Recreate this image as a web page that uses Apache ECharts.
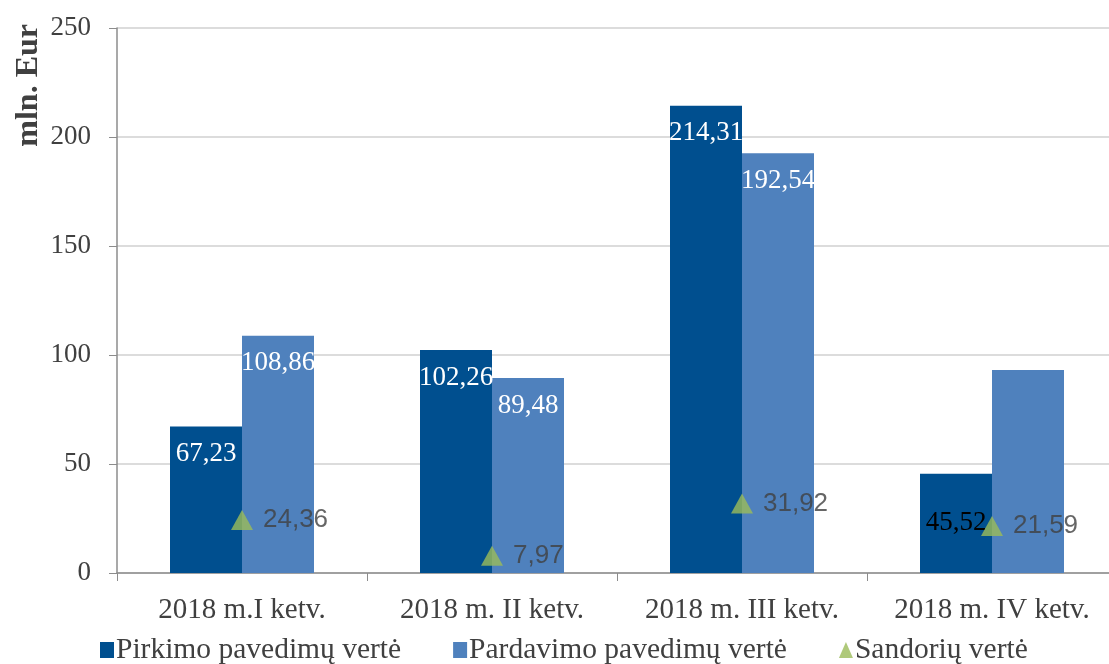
<!DOCTYPE html>
<html><head><meta charset="utf-8">
<script src="https://cdn.jsdelivr.net/npm/echarts@6/dist/echarts.min.js"></script>
<style>html,body{margin:0;padding:0;background:#fff}#c{width:1109px;height:664px}</style>
</head><body><div id="c"></div>
<script>
const categories = ['2018 m.I ketv.', '2018 m. II ketv.', '2018 m. III ketv.', '2018 m. IV ketv.'];
const pirkimo = [67.23, 102.26, 214.31, 45.52];
const pardavimo = [108.86, 89.48, 192.54, 93.1];
const sandoriu = [24.36, 7.97, 31.92, 21.59];
const seriesNames = ['Pirkimo pavedimų vertė', 'Pardavimo pavedimų vertė', 'Sandorių vertė'];
const yTicks = [0, 50, 100, 150, 200, 250];

const fmt = v => v.toFixed(2).replace('.', ',');
const serif = '"Liberation Serif", "Times New Roman", serif';

const pirkData = pirkimo.map((v, i) => i === 3
  ? { value: v, label: { position: 'inside', color: '#000' } }
  : v);
const pardData = pardavimo.map((v, i) => i === 3
  ? { value: v, label: { show: false } }
  : v);

const chart = echarts.init(document.getElementById('c'));
chart.setOption({
  animation: false,
  grid: { left: 117, width: 1000, top: 28, bottom: 91, outerBoundsMode: 'none', containLabel: false },
  legend: {
    left: 95, top: 630, itemGap: 52, itemWidth: 14, itemHeight: 16,
    textStyle: { fontFamily: serif, fontSize: 29.5, color: '#404040', padding: [0, 0, 0, -3] },
    data: [
      { name: seriesNames[0], icon: 'rect' },
      { name: seriesNames[1], icon: 'rect' },
      { name: seriesNames[2], icon: 'triangle', itemStyle: { color: '#9bbb59' } }
    ]
  },
  graphic: [{
    type: 'text', left: 13, top: 24, rotation: Math.PI / 2,
    style: { text: 'mln. Eur', font: 'bold 32px ' + serif, fill: '#404040' }
  }],
  xAxis: {
    type: 'category', data: categories,
    axisLine: { lineStyle: { color: '#8c8c8c', width: 1.5 } },
    axisTick: { show: true, length: 8, lineStyle: { color: '#8c8c8c' } },
    axisLabel: { interval: 0, fontFamily: serif, fontSize: 29, color: '#404040', margin: 23 }
  },
  yAxis: {
    type: 'value', min: yTicks[0], max: yTicks[yTicks.length - 1], interval: 50,
    axisLine: { show: true, lineStyle: { color: '#8c8c8c', width: 1.5 } },
    axisTick: { show: true, length: 8, lineStyle: { color: '#8c8c8c' } },
    axisLabel: { fontFamily: serif, fontSize: 27, color: '#404040', margin: 26 },
    splitLine: { lineStyle: { color: '#d0d0d0', width: 1.5 } }
  },
  series: [
    {
      name: seriesNames[0], type: 'bar', data: pirkData, barWidth: 72, barGap: '0%',
      itemStyle: { color: '#004f8f' },
      label: { show: true, position: 'insideTop', distance: 14, formatter: p => fmt(p.value),
        fontFamily: serif, fontSize: 27, color: '#fff' }
    },
    {
      name: seriesNames[1], type: 'bar', data: pardData, barWidth: 72,
      itemStyle: { color: '#4f81bd' },
      label: { show: true, position: 'insideTop', distance: 14, formatter: p => fmt(p.value),
        fontFamily: serif, fontSize: 27, color: '#fff' }
    },
    {
      name: seriesNames[2], type: 'scatter', data: sandoriu, symbol: 'triangle', symbolSize: [22, 20],
      itemStyle: { color: '#9bbb59' }, z: 5,
      label: { show: true, position: 'right', distance: 10, formatter: p => fmt(p.value),
        fontFamily: '"Liberation Sans", Arial, sans-serif', fontSize: 26, color: '#404040' }
    }
  ]
});
</script></body></html>
